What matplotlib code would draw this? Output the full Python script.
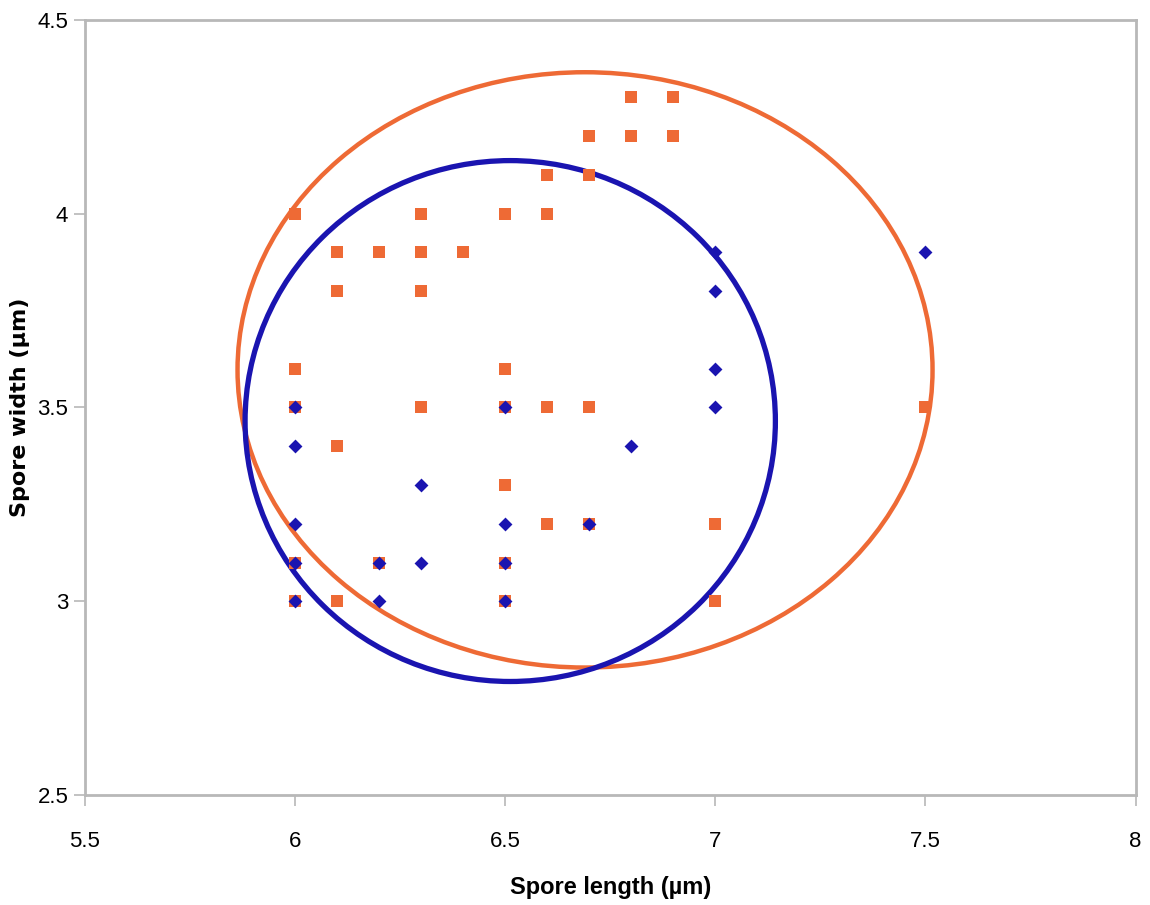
import matplotlib
matplotlib.use("Agg")
import matplotlib.pyplot as plt
from matplotlib.patches import Ellipse

# blue diamonds (spore length, spore width)
blue_x = [6.0, 6.0, 6.0, 6.0, 6.0, 6.2, 6.2, 6.3, 6.3, 6.5, 6.5, 6.5, 6.5, 6.7, 6.8, 7.0, 7.0, 7.0, 7.0, 7.5]
blue_y = [3.5, 3.4, 3.2, 3.1, 3.0, 3.1, 3.0, 3.3, 3.1, 3.5, 3.2, 3.1, 3.0, 3.2, 3.4, 3.9, 3.8, 3.6, 3.5, 3.9]

# orange squares
orange_x = [6.0, 6.1, 6.1, 6.2, 6.3, 6.3, 6.3, 6.4, 6.5, 6.6, 6.6, 6.7, 6.7, 6.8, 6.8, 6.9, 6.9,
            6.0, 6.1, 6.3, 6.5, 6.6, 6.7, 6.5, 6.6, 7.0, 7.0, 6.1, 7.5,
            6.0, 6.5, 6.0, 6.2, 6.5, 6.0, 6.5, 6.7]
orange_y = [4.0, 3.9, 3.8, 3.9, 4.0, 3.9, 3.8, 3.9, 4.0, 4.0, 4.1, 4.1, 4.2, 4.2, 4.3, 4.3, 4.2,
            3.6, 3.4, 3.5, 3.6, 3.5, 3.5, 3.3, 3.2, 3.2, 3.0, 3.0, 3.5,
            3.5, 3.5, 3.1, 3.1, 3.1, 3.0, 3.0, 3.2]

# ellipses: centre, full width, full height
orange_ell = (6.69, 3.597, 1.654, 1.536)
blue_ell = (6.512, 3.465, 1.262, 1.344)

x_ticks = [5.5, 6, 6.5, 7, 7.5, 8]
y_ticks = [2.5, 3, 3.5, 4, 4.5]

ORANGE = "#EE6A35"
BLUE = "#1A14B0"
GREY = "#B8B8B8"

fig = plt.figure(figsize=(11.5, 9.05), dpi=100)
ax = fig.add_axes([0.0739, 0.1215, 0.9135, 0.8565])

font = ["Liberation Sans", "DejaVu Sans"]

ax.scatter(orange_x, orange_y, marker="s", s=65, color=ORANGE, linewidths=0, zorder=3)
ax.scatter(blue_x, blue_y, marker="D", s=50, color=BLUE, linewidths=0, zorder=4)

for (cx, cy, w, h), c, lw in [(orange_ell, ORANGE, 3.2), (blue_ell, BLUE, 3.8)]:
    ax.add_patch(Ellipse((cx, cy), w, h, fill=False, edgecolor=c, linewidth=lw, zorder=2))

ax.set_xlim(5.5, 8)
ax.set_ylim(2.5, 4.5)
ax.set_xticks(x_ticks)
ax.set_yticks(y_ticks)
ax.set_xticklabels([f"{t:g}" for t in x_ticks], family=font, fontsize=16)
ax.set_yticklabels([f"{t:g}" for t in y_ticks], family=font, fontsize=16)
ax.tick_params(length=8, color=GREY, width=1.2)
ax.tick_params(axis="x", pad=18)
ax.tick_params(axis="y", pad=4)

for s in ax.spines.values():
    s.set_color(GREY)
    s.set_linewidth(2)

ax.set_xlabel("Spore length (\u00b5m)", family=font, fontsize=17, fontweight="bold")
ax.xaxis.set_label_coords(0.5, -0.105)
ax.set_ylabel("Spore width (\u00b5m)", family="DejaVu Sans", fontsize=16, fontweight="bold")
ax.yaxis.set_label_coords(-0.052, 0.5)

fig.savefig("out.png", dpi=100, facecolor="white")
